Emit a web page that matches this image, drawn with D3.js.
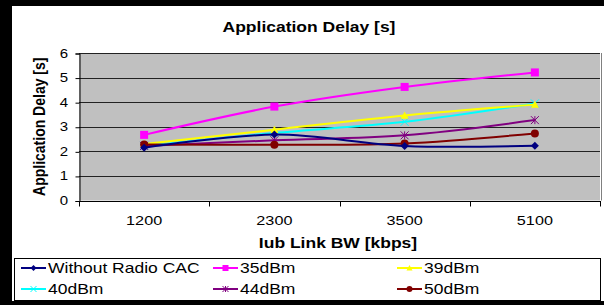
<!DOCTYPE html>
<html><head><meta charset="utf-8">
<script src="https://cdn.jsdelivr.net/npm/d3@7"></script>
<style>body{margin:0;background:#000;}svg{display:block;font-family:"Liberation Sans",Arial,sans-serif;}</style>
</head><body>
<script>
const categories = ["1200","2300","3500","5100"];
const yTicks = [0,1,2,3,4,5,6];
const seriesNames = ["Without Radio CAC","35dBm","39dBm","40dBm","44dBm","50dBm"];
const withoutCAC = [2.15, 2.68, 2.22, 2.23];
const dbm35 = [2.67, 3.82, 4.62, 5.21];
const dbm39 = [2.3, 2.88, 3.46, 3.9];
const dbm40 = [2.22, 2.75, 3.2, 3.95];
const dbm44 = [2.22, 2.45, 2.65, 3.27];
const dbm50 = [2.28, 2.27, 2.32, 2.73];
const seriesValues = [withoutCAC, dbm35, dbm39, dbm40, dbm44, dbm50];
const colors = ["#000080","#ff00ff","#ffff00","#00ffff","#800080","#800000"];
const markers = ["diamond","square","triangle","x","star","circle"];

const W=604,H=305;
const svg=d3.select("body").append("svg").attr("width",W).attr("height",H);
svg.append("rect").attr("width",W).attr("height",H).attr("fill","#000");
svg.append("rect").attr("x",12).attr("y",6).attr("width",592).attr("height",295).attr("fill","#fff");

function stext(g,x,y,txt,size,sx,anchor,weight){
  return g.append("text").attr("transform",`translate(${x},${y}) scale(${sx},1)`)
    .attr("text-anchor",anchor||"start").attr("font-size",size).attr("font-weight",weight||"normal").text(txt);
}

const L=79,R=600,T=53,B=200.5;
const x=d3.scaleBand().domain(categories).range([L,R]);
const y=d3.scaleLinear().domain([0,6]).range([B,T]);

svg.append("rect").attr("x",L).attr("y",T).attr("width",R-L).attr("height",B-T).attr("fill","#c0c0c0");
svg.append("g").selectAll("line").data(yTicks.filter(d=>d>0)).join("line")
  .attr("x1",L).attr("x2",R).attr("y1",d=>Math.round(y(d))+0.5).attr("y2",d=>Math.round(y(d))+0.5)
  .attr("stroke","#222").attr("stroke-width",1);
svg.append("line").attr("x1",R+1.5).attr("x2",R+1.5).attr("y1",T).attr("y2",B).attr("stroke","#808080");

const yAxis=d3.axisLeft(y).tickValues(yTicks).tickSize(4).tickFormat("");
const gy=svg.append("g").attr("transform",`translate(${L+0.5},0.5)`).call(yAxis);
gy.selectAll("line,path").attr("stroke","#000");
yTicks.forEach(t=>stext(svg,68,y(t)+4.5,d3.format("d")(t),12.5,1.2,"end"));

const gx=svg.append("g").attr("transform",`translate(0,${Math.round(B)+0.5})`);
gx.append("line").attr("x1",L).attr("x2",R+1).attr("stroke","#000");
const bounds=[...categories.map(c=>x(c)), R];
gx.selectAll("line.tk").data(bounds).join("line").attr("class","tk")
  .attr("x1",d=>Math.round(d)+0.5).attr("x2",d=>Math.round(d)+0.5).attr("y1",0).attr("y2",5).attr("stroke","#000");
categories.forEach(c=>stext(svg,x(c)+x.bandwidth()/2,225,c,13.5,1.2,"middle"));

stext(svg,309,32,"Application Delay [s]",14,1.25,"middle","bold");
stext(svg,338,248,"Iub Link BW [kbps]",14,1.25,"middle","bold");
svg.append("text").attr("transform",`translate(45,${(T+B)/2}) scale(1.2,1) rotate(-90)`).attr("text-anchor","middle").attr("font-size",14).attr("font-weight","bold").text("Application Delay [s]");

function drawMarker(g,type,color,cx,cy,s){
  if(type==="diamond") g.append("path").attr("d",`M${cx},${cy-s}L${cx+s},${cy}L${cx},${cy+s}L${cx-s},${cy}Z`).attr("fill",color);
  else if(type==="square") g.append("rect").attr("x",cx-s).attr("y",cy-s).attr("width",2*s).attr("height",2*s).attr("fill",color);
  else if(type==="triangle") g.append("path").attr("d",`M${cx},${cy-s}L${cx+s},${cy+s*0.8}L${cx-s},${cy+s*0.8}Z`).attr("fill",color);
  else if(type==="circle") g.append("circle").attr("cx",cx).attr("cy",cy).attr("r",s).attr("fill",color);
  else if(type==="x") g.append("path").attr("d",`M${cx-s},${cy-s}L${cx+s},${cy+s}M${cx-s},${cy+s}L${cx+s},${cy-s}`).attr("stroke",color).attr("stroke-width",1);
  else if(type==="star") g.append("path").attr("d",`M${cx-s},${cy-s}L${cx+s},${cy+s}M${cx-s},${cy+s}L${cx+s},${cy-s}M${cx},${cy-s}L${cx},${cy+s}`).attr("stroke",color).attr("stroke-width",1);
}

const line=d3.line().x((d,i)=>x(categories[i])+x.bandwidth()/2).y(d=>y(d)).curve(d3.curveCatmullRom.alpha(0.5));
const order=[3,2,1,4,5,0];
order.forEach(si=>{
  const g=svg.append("g");
  g.append("path").datum(seriesValues[si]).attr("d",line).attr("fill","none").attr("stroke",colors[si]).attr("stroke-width",2);
  seriesValues[si].forEach((v,i)=>drawMarker(g,markers[si],colors[si],x(categories[i])+x.bandwidth()/2,y(v),4));
});

svg.append("rect").attr("x",14.5).attr("y",258.5).attr("width",586).attr("height",42).attr("fill","#fff").attr("stroke","#000");
const colX=[21,213,397], rowY=[268,289];
seriesNames.forEach((n,i)=>{
  const cx=colX[i%3], cy=rowY[Math.floor(i/3)];
  const g=svg.append("g");
  g.append("line").attr("x1",cx).attr("x2",cx+25).attr("y1",cy).attr("y2",cy).attr("stroke",colors[i]).attr("stroke-width",2);
  drawMarker(g,markers[i],colors[i],cx+12.5,cy,3);
  stext(g,cx+27,cy+5,n,14,1.25,"start");
});
</script>
</body></html>
